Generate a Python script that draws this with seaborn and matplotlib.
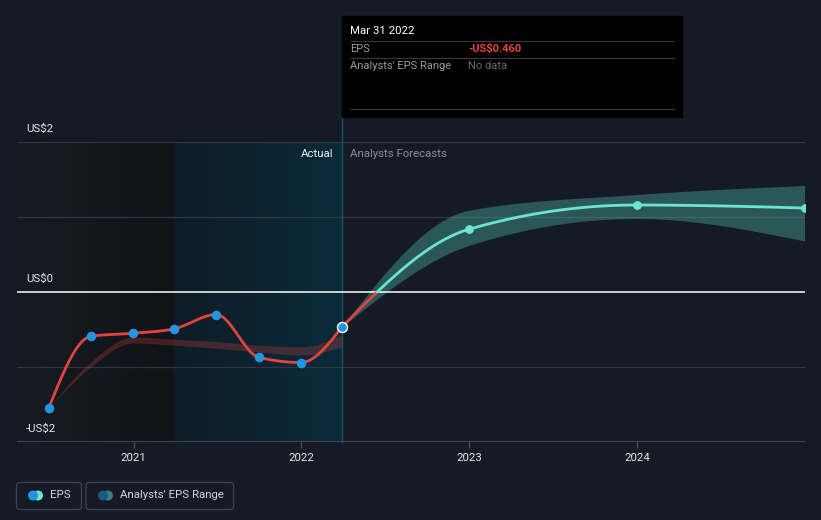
import numpy as np
import pandas as pd
import matplotlib
matplotlib.use("Agg")
import matplotlib.pyplot as plt
import seaborn as sns
from matplotlib.patches import Rectangle, FancyBboxPatch, Circle

# ---------------- data ----------------
actual_dates = ["2020-06-30", "2020-09-30", "2020-12-31", "2021-03-31",
                "2021-06-30", "2021-09-30", "2021-12-31", "2022-03-31"]
actual_eps = [-1.55, -0.59, -0.55, -0.49, -0.30, -0.87, -0.94, -0.46]

past_range_dates = ["2020-06-30", "2020-09-30", "2020-12-31", "2021-03-31",
                    "2021-06-30", "2021-09-30", "2021-12-31", "2022-03-31"]
past_range_low = [-1.55, -1.00, -0.68, -0.71, -0.75, -0.80, -0.84, -0.73]
past_range_high = [-1.55, -0.93, -0.60, -0.63, -0.66, -0.71, -0.73, -0.57]

fc_dates = ["2022-03-31", "2022-12-31", "2023-12-31", "2024-12-31"]
fc_eps = [-0.46, 0.836, 1.16, 1.12]
fc_low = [-0.46, 0.62, 0.98, 0.68]
fc_high = [-0.46, 1.09, 1.30, 1.42]

x_ticks = [2021, 2022, 2023, 2024]
x_tick_labels = ["2021", "2022", "2023", "2024"]
y_labels = {2: "US$2", 0: "US$0", -2: "-US$2"}

# ---------------- helpers ----------------
def dec_year(s):
    ts = pd.Timestamp(s)
    start = pd.Timestamp(year=ts.year, month=1, day=1)
    end = pd.Timestamp(year=ts.year + 1, month=1, day=1)
    return ts.year + (ts - start) / (end - start)


def monotone(xs, ys, n=80):
    xs = np.asarray(xs, float)
    ys = np.asarray(ys, float)
    h = np.diff(xs)
    s = np.diff(ys) / h
    m = np.zeros(len(xs))
    for i in range(1, len(xs) - 1):
        p = (s[i - 1] * h[i] + s[i] * h[i - 1]) / (h[i - 1] + h[i])
        m[i] = (np.sign(s[i - 1]) + np.sign(s[i])) * min(abs(s[i - 1]), abs(s[i]), 0.5 * abs(p))
    if len(xs) > 2:
        m[0] = (3 * s[0] - m[1]) / 2
        m[-1] = (3 * s[-1] - m[-2]) / 2
    else:
        m[:] = s[0]
    X, Y = [], []
    for i in range(len(xs) - 1):
        t = np.linspace(0, 1, n, endpoint=(i == len(xs) - 2))
        h00 = 2 * t**3 - 3 * t**2 + 1
        h10 = t**3 - 2 * t**2 + t
        h01 = -2 * t**3 + 3 * t**2
        h11 = t**3 - t**2
        X.append(xs[i] + t * h[i])
        Y.append(h00 * ys[i] + h10 * h[i] * m[i] + h01 * ys[i + 1] + h11 * h[i] * m[i + 1])
    return np.concatenate(X), np.concatenate(Y)


def hex2rgb(c):
    c = c.lstrip("#")
    return np.array([int(c[i:i + 2], 16) for i in (0, 2, 4)]) / 255.0


# ---------------- style ----------------
BG = "#151b24"
RED = "#e5433f"
BLUE = "#2394df"
TEAL = "#6ce5d0"
W, H = 821, 520

sns.set_theme(style="dark")
plt.rcParams["font.family"] = ["Roboto", "DejaVu Sans"]

fig = plt.figure(figsize=(W / 100, H / 100), dpi=100, facecolor=BG)
ax_left, ax_right, ax_top, ax_bot = 17, 805, 142, 442
ax = fig.add_axes([ax_left / W, (H - ax_bot) / H, (ax_right - ax_left) / W, (ax_bot - ax_top) / H])
ax.set_facecolor(BG)
for sp in ax.spines.values():
    sp.set_visible(False)

X0, X1 = 2020.306, 2025.0
Y0, Y1 = -2.0, 2.0
now_x = dec_year(actual_dates[-1])
split_x = dec_year("2021-03-31")

# background shading gradients
def hgrad(c0, c1, n=256):
    a, b = hex2rgb(c0), hex2rgb(c1)
    t = np.linspace(0, 1, n)[:, None]
    return (a * (1 - t) + b * t)[None, :, :]

ax.imshow(hgrad("#161b23", "#101318"), extent=[X0, split_x, Y0, Y1], aspect="auto", zorder=0, interpolation="bilinear")
ax.imshow(hgrad("#0f1c26", "#0a2b3a"), extent=[split_x, now_x, Y0, Y1], aspect="auto", zorder=0, interpolation="bilinear")

# gridlines
for yv in [2, 1, -1]:
    ax.axhline(yv, color="#30353e", lw=0.9, zorder=1)
ax.axhline(0, color="white", lw=1.1, zorder=4)
ax.axhline(-2, color="#4a4f57", lw=1.2, zorder=1)

# past analyst range band (red)
ax_x = [dec_year(d) for d in past_range_dates]
bx, blo = monotone(ax_x, past_range_low)
_, bhi = monotone(ax_x, past_range_high)
ax.fill_between(bx, blo, bhi, color=RED, alpha=0.25, lw=0, zorder=2)

# forecast band (teal)
fx = [dec_year(d) for d in fc_dates]
fbx, flo = monotone(fx, fc_low)
_, fhi = monotone(fx, fc_high)
ax.fill_between(fbx, flo, fhi, color="#5ad6c4", alpha=0.32, lw=0, zorder=2)

# actual EPS line
axx = [dec_year(d) for d in actual_dates]
lx, ly = monotone(axx, actual_eps)
sns.lineplot(x=lx, y=ly, ax=ax, color=RED, lw=2.0, sort=False, estimator=None, zorder=5)

# forecast line, red below zero, teal above
cx, cy = monotone(fx, fc_eps)
k = int(np.argmax(cy >= 0))
xz = np.interp(0, [cy[k - 1], cy[k]], [cx[k - 1], cx[k]])
neg_x = np.append(cx[:k], xz)
neg_y = np.append(cy[:k], 0.0)
pos_x = np.insert(cx[k:], 0, xz)
pos_y = np.insert(cy[k:], 0, 0.0)
sns.lineplot(x=neg_x, y=neg_y, ax=ax, color=RED, lw=2.0, sort=False, estimator=None, zorder=5)
sns.lineplot(x=pos_x, y=pos_y, ax=ax, color=TEAL, lw=2.0, sort=False, estimator=None, zorder=5)

# markers
sns.scatterplot(x=axx[:-1], y=actual_eps[:-1], ax=ax, color=BLUE, s=48, linewidth=0, zorder=6)
ax.scatter([axx[-1]], [actual_eps[-1]], color=BLUE, s=52, edgecolor="white", linewidth=1.0, zorder=7)
sns.scatterplot(x=fx[1:], y=fc_eps[1:], ax=ax, color=TEAL, s=40, linewidth=0, zorder=6)

# vertical "now" line extending up to tooltip
ax.plot([now_x, now_x], [Y0, Y1 + 25 / 75], color="#1d5366", lw=1.0, zorder=3, clip_on=False)

ax.set_xlim(X0, X1)
ax.set_ylim(Y0, Y1)
ax.set_xticks(x_ticks)
ax.set_xticklabels(x_tick_labels)
ax.set_yticks([])
ax.tick_params(axis="x", bottom=True, length=4, width=1, color="#4a4f57", pad=4,
               labelsize=8.2, labelcolor="#e8e8e8")
ax.set_xlabel("")
ax.set_ylabel("")
ax.grid(False)

ytr = ax.get_yaxis_transform()
for yv, lab in y_labels.items():
    ax.text(9 / 788, yv + 13 / 75, lab, transform=ytr, ha="left", va="center",
            fontsize=8.2, color="#e8e8e8", zorder=8)

ax.text(now_x - 9 / 167.8, 2 - 12 / 75, "Actual", ha="right", va="center",
        fontsize=8.2, color="#f0f0f0", zorder=8)
ax.text(now_x + 8 / 167.8, 2 - 12 / 75, "Analysts Forecasts", ha="left", va="center",
        fontsize=8.2, color="#8a8f98", zorder=8)

# ---------------- overlay (pixel coords) for tooltip and legend ----------------
ov = fig.add_axes([0, 0, 1, 1], zorder=10)
ov.set_xlim(0, W)
ov.set_ylim(H, 0)
ov.axis("off")
ov.patch.set_alpha(0)

ov.add_patch(Rectangle((342, 16), 340, 101, color="black", zorder=1))
ov.text(350, 31, "Mar 31 2022", ha="left", va="center", fontsize=8.2, color="white", zorder=2)
ov.plot([350, 674], [41, 41], color="#3a3a3a", lw=0.8, zorder=2)
ov.text(350, 48.5, "EPS", ha="left", va="center", fontsize=8, color="#9a9a9a", zorder=2)
ov.text(468, 48.5, "-US$0.460", ha="left", va="center", fontsize=8, color=RED,
        fontweight="bold", zorder=2)
ov.plot([350, 674], [58, 58], color="#3a3a3a", lw=0.8, zorder=2)
ov.text(350, 66, "Analysts' EPS Range", ha="left", va="center", fontsize=8, color="#9a9a9a", zorder=2)
ov.text(468, 66, "No data", ha="left", va="center", fontsize=8, color="#6a6a6a", zorder=2)
ov.plot([350, 674], [109, 109], color="#3a3a3a", lw=0.8, zorder=2)

# legend
for (x0, x1) in [(16.5, 81.5), (86, 233.5)]:
    ov.add_patch(FancyBboxPatch((x0, 482.5), x1 - x0, 27, boxstyle="round,pad=0,rounding_size=3",
                                fill=False, edgecolor="#3c414a", lw=1.0))
ov.add_patch(Circle((38, 495.5), 4.3, color=TEAL, zorder=2))
ov.add_patch(Circle((33, 495.5), 4.3, color=BLUE, zorder=3))
ov.text(50, 495.5, "EPS", ha="left", va="center", fontsize=8.2, color="#d8d8d8")
ov.add_patch(Circle((108, 495.5), 4.3, color="#3d7f78", zorder=2))
ov.add_patch(Circle((103, 495.5), 4.3, color="#1d5a7d", zorder=3))
ov.text(120, 495.5, "Analysts' EPS Range", ha="left", va="center", fontsize=8.2, color="#d8d8d8")

fig.savefig("out.png", dpi=100, facecolor=BG)
